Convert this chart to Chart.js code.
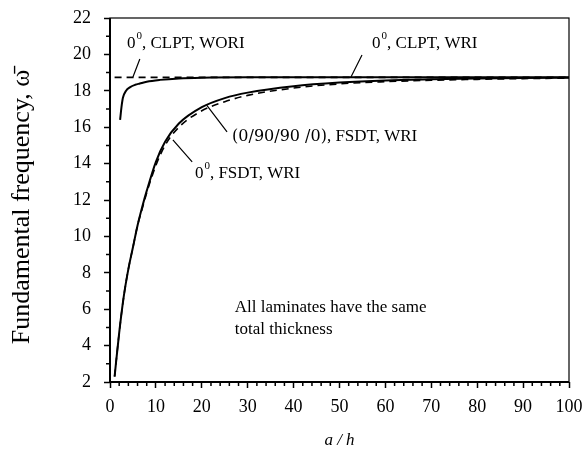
<!DOCTYPE html>
<html>
<head>
<meta charset="utf-8">
<script src="https://cdn.jsdelivr.net/npm/chart.js@4.4.0/dist/chart.umd.min.js"></script>
<style>
  html, body { margin: 0; padding: 0; background: #fff; }
  #wrap { width: 587px; height: 457px; }
</style>
</head>
<body>
<div id="wrap"><canvas id="freqChart" width="587" height="457"></canvas></div>
<script>
// a/h values and fundamental frequency
const aOverH = [1, 2, 3, 4, 5, 6, 7, 8, 10, 12, 15, 20, 25, 30, 40, 50, 60, 70, 80, 90, 100];
const fsdtZero = [2.3, 4.7, 6.7, 8.2, 9.4, 10.6, 11.6, 12.5, 14.1, 15.2, 16.2, 17.1, 17.6, 17.9, 18.25, 18.45, 18.57, 18.63, 18.67, 18.7, 18.72];
const fsdtCross = [2.3, 4.7, 6.7, 8.2, 9.4, 10.6, 11.5, 12.4, 13.9, 15.0, 16.0, 16.9, 17.4, 17.75, 18.15, 18.38, 18.5, 18.58, 18.63, 18.67, 18.7];
const woriX = [2.2, 2.5, 2.8, 3.5, 4.4, 5.5, 6.5, 8, 10.9, 15, 20, 30, 50, 100];
const clptWori = [16.4, 17.1, 17.6, 18.0, 18.2, 18.33, 18.4, 18.5, 18.6, 18.68, 18.72, 18.74, 18.74, 18.74];
const wriX = [1, 100];
const clptWri = [18.74, 18.74];

const xTicks = [0, 10, 20, 30, 40, 50, 60, 70, 80, 90, 100];
const yTicks = [2, 4, 6, 8, 10, 12, 14, 16, 18, 20, 22];

const serif = "'Liberation Serif', 'Times New Roman', serif";

function pts(xs, ys) {
  return xs.map((x, i) => ({ x: x, y: ys[i] }));
}

function line(data, dashed) {
  return {
    data: data,
    borderColor: '#000',
    borderWidth: dashed ? 1.6 : 2,
    borderDash: dashed ? [7, 5] : [],
    pointRadius: 0,
    cubicInterpolationMode: 'monotone',
    fill: false
  };
}

// text like "0⁰, CLPT, WRI" with a raised small zero
function degLabel(ctx, x, y, rest) {
  ctx.font = '17px ' + serif;
  ctx.fillText('0', x, y);
  let w = ctx.measureText('0').width;
  ctx.font = '11px ' + serif;
  ctx.fillText('0', x + w + 1, y - 7);
  w += ctx.measureText('0').width + 1;
  ctx.font = '17px ' + serif;
  ctx.fillText(rest, x + w, y);
}

const decorations = {
  id: 'decorations',
  afterDatasetsDraw(chart) {
    const ctx = chart.ctx;
    const sx = chart.scales.x, sy = chart.scales.y;
    const area = chart.chartArea;
    const X = v => sx.getPixelForValue(v);
    const Y = v => sy.getPixelForValue(v);
    ctx.save();
    ctx.strokeStyle = '#000';
    ctx.fillStyle = '#000';

    // frame
    ctx.lineWidth = 1.2;
    ctx.strokeRect(area.left, area.top, area.right - area.left, area.bottom - area.top);
    ctx.lineWidth = 2;
    ctx.beginPath();
    ctx.moveTo(area.left, area.top);
    ctx.lineTo(area.left, area.bottom);
    ctx.lineTo(area.right, area.bottom);
    ctx.stroke();

    // minor ticks
    ctx.lineWidth = 1.5;
    ctx.beginPath();
    for (let v = 3; v < 22; v += 2) {
      ctx.moveTo(area.left - 4, Y(v));
      ctx.lineTo(area.left, Y(v));
    }
    for (let v = 2; v < 100; v += 2) {
      if (v % 10 === 0) continue;
      ctx.moveTo(X(v), area.bottom);
      ctx.lineTo(X(v), area.bottom + 4);
    }
    ctx.stroke();

    // leader lines
    ctx.lineWidth = 1.2;
    ctx.beginPath();
    ctx.moveTo(X(6.5), Y(19.75)); ctx.lineTo(X(5.0), Y(18.76));
    ctx.moveTo(X(54.9), Y(19.97)); ctx.lineTo(X(52.5), Y(18.76));
    ctx.moveTo(X(25.5), Y(15.74)); ctx.lineTo(X(21.1), Y(17.2));
    ctx.moveTo(X(17.9), Y(14.09)); ctx.lineTo(X(13.7), Y(15.3));
    ctx.stroke();

    // labels
    ctx.textBaseline = 'middle';
    ctx.textAlign = 'left';
    degLabel(ctx, X(3.7), Y(20.6), ', CLPT, WORI');
    degLabel(ctx, X(57.1), Y(20.6), ', CLPT, WRI');
    degLabel(ctx, X(18.5), Y(13.48), ', FSDT, WRI');

    ctx.font = '16px ' + "'DejaVu Serif', serif";
    const lam = '(0/90/90 /0)';
    ctx.fillText(lam, X(26.6), Y(15.46));
    const lw = ctx.measureText(lam).width;
    ctx.font = '17px ' + serif;
    ctx.fillText(', FSDT, WRI', X(26.6) + lw, Y(15.46));

    ctx.fillText('All laminates have the same', X(27.2), Y(6.07));
    ctx.fillText('total thickness', X(27.2), Y(4.86));

    // y axis title
    ctx.translate(22, 207);
    ctx.rotate(-Math.PI / 2);
    ctx.textAlign = 'center';
    ctx.font = '26px ' + serif;
    ctx.fillText('Fundamental frequency, \u03C9\u0304', 0, 0);
    ctx.restore();
  }
};

new Chart(document.getElementById('freqChart'), {
  type: 'line',
  data: {
    datasets: [
      line(pts(wriX, clptWri), true),
      line(pts(woriX, clptWori), false),
      line(pts(aOverH, fsdtCross), true),
      line(pts(aOverH, fsdtZero), false)
    ]
  },
  options: {
    responsive: false,
    animation: false,
    layout: { padding: { top: 18, right: 18, left: 0, bottom: 0 } },
    plugins: { legend: { display: false }, tooltip: { enabled: false } },
    scales: {
      x: {
        type: 'linear',
        min: 0,
        max: 100,
        afterBuildTicks: s => { s.ticks = xTicks.map(v => ({ value: v })); },
        afterFit: s => { s.height = 75; s.paddingLeft = 0; s.paddingRight = 0; },
        grid: { drawOnChartArea: false, drawTicks: true, tickLength: 6, tickColor: '#000', tickWidth: 1.5 },
        border: { display: false },
        ticks: { color: '#000', font: { family: serif, size: 18 }, padding: 8, maxRotation: 0 },
        title: { display: true, text: 'a / h', color: '#000', font: { family: serif, size: 17, style: 'italic' }, padding: { top: 0, bottom: 6 } }
      },
      y: {
        min: 2,
        max: 22,
        afterBuildTicks: s => { s.ticks = yTicks.map(v => ({ value: v })); },
        afterFit: s => { s.width = 110; s.paddingTop = 0; s.paddingBottom = 0; },
        grid: { drawOnChartArea: false, drawTicks: true, tickLength: 6, tickColor: '#000', tickWidth: 1.5 },
        border: { display: false },
        ticks: { color: '#000', font: { family: serif, size: 18 }, padding: 13 }
      }
    }
  },
  plugins: [decorations]
});
</script>
</body>
</html>
